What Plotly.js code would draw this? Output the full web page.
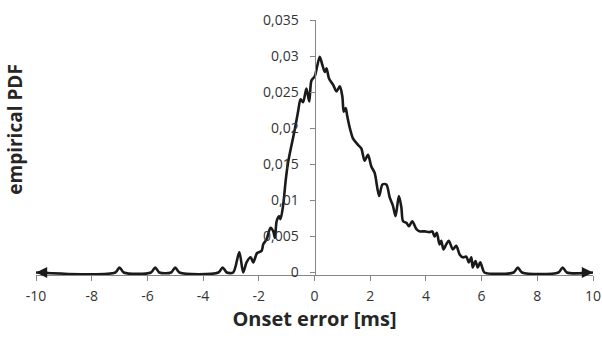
<!DOCTYPE html>
<html>
<head>
<meta charset="utf-8">
<script src="https://cdn.plot.ly/plotly-3.0.1.min.js"></script>
<style>html,body{margin:0;padding:0;background:#fff;}#chart{width:602px;height:339px;}</style>
</head>
<body>
<div id="chart"></div>
<script>
// Onset error [ms]
const onsetError = [
  -10, -7.15, -7.0, -6.85, -5.87, -5.72, -5.57, -5.15, -5.0, -4.85, -3.45, -3.3, -3.15,
  -2.92, -2.70, -2.56, -2.44, -2.29, -2.20, -2.06, -1.90, -1.84, -1.72, -1.58, -1.48,
  -1.42, -1.36, -1.27, -1.22, -1.13, -1.03, -0.95, -0.86, -0.71, -0.59, -0.50, -0.41,
  -0.29, -0.19, -0.11, 0.01, 0.09, 0.19, 0.28, 0.37, 0.43, 0.52, 0.67, 0.79, 0.91,
  1.00, 1.05, 1.12, 1.17, 1.27, 1.38, 1.56, 1.68, 1.80, 1.92, 2.04, 2.16, 2.32, 2.44,
  2.58, 2.70, 2.82, 2.91, 3.03, 3.12, 3.18, 3.30, 3.39, 3.51, 3.66, 3.77, 3.95, 4.13,
  4.23, 4.31, 4.39, 4.49, 4.55, 4.63, 4.73, 4.82, 4.97, 5.09, 5.21, 5.33, 5.45, 5.54,
  5.63, 5.68, 5.78, 5.86, 5.95, 6.04, 6.10, 7.15, 7.3, 7.45, 8.76, 8.91, 9.06, 10
];
// empirical PDF
const pdf = [
  0, 0, 0.0007, 0, 0, 0.0007, 0, 0, 0.0007, 0, 0, 0.0007, 0,
  0, 0.0028, 0, 0.0014, 0.0021, 0.0014, 0.0027, 0.0030, 0.0039, 0.0046, 0.0062, 0.0057,
  0.0048, 0.0071, 0.0078, 0.0074, 0.0092, 0.0129, 0.0152, 0.0170, 0.0198, 0.0223, 0.0240, 0.0236,
  0.0255, 0.0237, 0.0266, 0.0272, 0.0285, 0.0299, 0.0288, 0.0278, 0.0283, 0.0269, 0.0260, 0.0251, 0.0258,
  0.0244, 0.0223, 0.0228, 0.0218, 0.0200, 0.0186, 0.0177, 0.0172, 0.0155, 0.0163, 0.0147, 0.0138, 0.0106, 0.0122,
  0.0122, 0.0104, 0.0092, 0.0078, 0.0106, 0.0090, 0.0071, 0.0069, 0.0064, 0.0071, 0.0060, 0.0057, 0.0057, 0.0056,
  0.0057, 0.0050, 0.0055, 0.0039, 0.0044, 0.0032, 0.0039, 0.0044, 0.0032, 0.0037, 0.0025, 0.0021, 0.0022, 0.0014,
  0.0021, 0.0007, 0.0016, 0.0007, 0.0014, 0.0005, 0, 0, 0.0007, 0, 0, 0.0007, 0, 0
];
const xTicks = [-10, -8, -6, -4, -2, 0, 2, 4, 6, 8, 10];
const yTicks = [0, 0.005, 0.01, 0.015, 0.02, 0.025, 0.03, 0.035];
const yTickLabels = ["0", "0,005", "0,01", "0,015", "0,02", "0,025", "0,03", "0,035"];

const axisColor = "#868686";
const textColor = "#333333";
const fontFam = "Open Sans, Noto Sans, sans-serif";

const trace = {
  x: onsetError, y: pdf, type: "scatter", mode: "lines",
  line: {color: "#1a1a1a", width: 2.6, shape: "spline", smoothing: 0.8},
  hoverinfo: "skip"
};

const layout = {
  width: 602, height: 339,
  margin: {l: 36, r: 9, t: 20, b: 64, pad: 0},
  paper_bgcolor: "#fff", plot_bgcolor: "#fff",
  showlegend: false,
  separators: ",.",
  font: {family: fontFam, color: textColor, size: 12},
  xaxis: {
    range: [-10, 10], tickvals: xTicks, ticktext: xTicks.map(String),
    showline: true, linecolor: axisColor, linewidth: 1.2,
    ticks: "outside", ticklen: 5, tickcolor: axisColor, tickwidth: 1,
    ticklabelstandoff: 3,
    showgrid: false, zeroline: false,
    tickfont: {family: fontFam, size: 14, color: textColor},
    title: {text: "<b>Onset error [ms]</b>", font: {family: fontFam, size: 20, color: "#262626"}, standoff: 8}
  },
  yaxis: {
    range: [-0.00035, 0.035], tickvals: yTicks, ticktext: yTickLabels,
    anchor: "free", position: 0.5,
    showline: true, linecolor: axisColor, linewidth: 1.2,
    ticks: "outside", ticklen: 5, tickcolor: axisColor, tickwidth: 1,
    ticklabelstandoff: 8,
    showgrid: false, zeroline: false,
    tickfont: {family: fontFam, size: 14, color: textColor}
  },
  annotations: [
    {xref: "paper", yref: "paper", x: -0.038, y: 0.573, xanchor: "center", yanchor: "middle",
     text: "<b>empirical PDF</b>", textangle: -90,
     showarrow: false, font: {family: fontFam, size: 19, color: "#262626"}},
    {x: -10, y: 0, ax: 14, ay: 0, text: "", showarrow: true,
     arrowhead: 2, arrowsize: 1.4, arrowwidth: 1.6, arrowcolor: "#1a1a1a"},
    {x: 10, y: 0, ax: -14, ay: 0, text: "", showarrow: true,
     arrowhead: 2, arrowsize: 1.4, arrowwidth: 1.6, arrowcolor: "#1a1a1a"},
    {x: 0, y: 0.0352, ax: 0, ay: 14, text: "", showarrow: true,
     arrowhead: 2, arrowsize: 1.4, arrowwidth: 1.6, arrowcolor: "#1a1a1a"}
  ]
};

Plotly.newPlot("chart", [trace], layout, {staticPlot: true, displayModeBar: false});
</script>
</body>
</html>
